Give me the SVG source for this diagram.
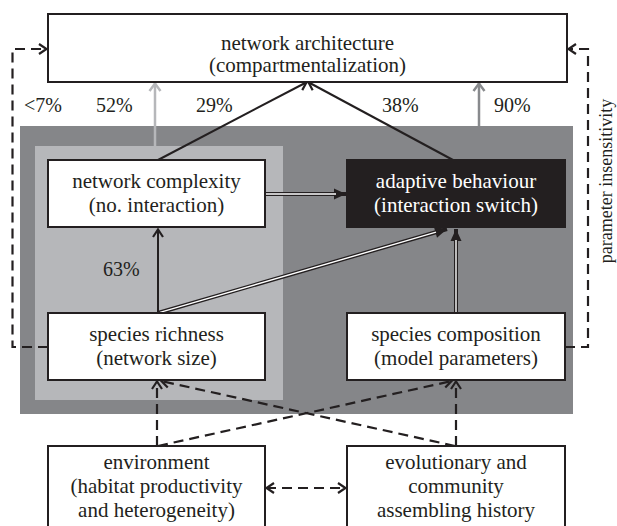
<svg xmlns="http://www.w3.org/2000/svg" width="617" height="526" viewBox="0 0 617 526">
<style>
  text { font-family: "Liberation Serif", "Times New Roman", serif; font-size: 21px; fill: #231f20; text-anchor: middle; }
  .pct { font-size: 20px; text-anchor: start; }
  .side { font-size: 18px; }
  .wt { fill: #ffffff; }
  .box { fill: #ffffff; stroke: #231f20; stroke-width: 2; }
  .dark { fill: #231f20; stroke: #231f20; stroke-width: 2; }
  .ln { fill: none; stroke: #231f20; stroke-width: 2; }
  .dash { fill: none; stroke: #231f20; stroke-width: 2.2; stroke-dasharray: 10 6; }
  .dbl { fill: none; stroke: #231f20; stroke-width: 4; }
  .dblw { fill: none; stroke: #ffffff; stroke-width: 1.4; }
  .g1 { fill: none; stroke: #b6b7ba; stroke-width: 2.5; }
  .g2 { fill: none; stroke: #888a8d; stroke-width: 2.5; }
</style>
<defs>
  <marker id="chev" markerUnits="userSpaceOnUse" viewBox="-12 -7 14 14" markerWidth="14" markerHeight="14" refX="0" refY="0" orient="auto-start-reverse" overflow="visible">
    <path d="M-8,-5 L-0.5,0 L-8,5" fill="none" stroke="#231f20" stroke-width="2.2"/>
  </marker>
  <marker id="chevG1" markerUnits="userSpaceOnUse" viewBox="-12 -7 14 14" markerWidth="14" markerHeight="14" refX="0" refY="0" orient="auto" overflow="visible">
    <path d="M-8,-5.5 L-0.5,0 L-8,5.5" fill="none" stroke="#b6b7ba" stroke-width="2.5"/>
  </marker>
  <marker id="chevG2" markerUnits="userSpaceOnUse" viewBox="-12 -7 14 14" markerWidth="14" markerHeight="14" refX="0" refY="0" orient="auto" overflow="visible">
    <path d="M-8,-5.5 L-0.5,0 L-8,5.5" fill="none" stroke="#888a8d" stroke-width="2.5"/>
  </marker>
  <marker id="tri" markerUnits="userSpaceOnUse" viewBox="-13 -7 14 14" markerWidth="14" markerHeight="14" refX="0" refY="0" orient="auto" overflow="visible">
    <path d="M-12,-5.5 L0,0 L-12,5.5 Z" fill="#231f20"/>
  </marker>
</defs>

<g id="regions">
  <rect x="20" y="126" width="553" height="288" fill="#858689"/>
  <rect x="35" y="146" width="248" height="254" fill="#b6b7ba"/>
</g>

<g id="connectors">
  <!-- grey arrows -->
  <line class="g1" x1="155" y1="146" x2="155" y2="83" marker-end="url(#chevG1)"/>
  <line class="g2" x1="479" y1="126" x2="479" y2="83" marker-end="url(#chevG2)"/>
  <!-- black arrows to architecture -->
  <line class="ln" x1="158" y1="160" x2="307" y2="82" marker-end="url(#chev)"/>
  <line class="ln" x1="453" y1="160" x2="308" y2="82" marker-end="url(#chev)"/>
  <!-- richness to complexity -->
  <line class="ln" x1="158" y1="313" x2="158" y2="229" marker-end="url(#chev)"/>
  <!-- double arrows -->
  <line class="dbl" x1="265" y1="194" x2="346" y2="194" marker-end="url(#tri)"/>
  <line class="dblw" x1="265" y1="194" x2="336" y2="194"/>
  <line class="dbl" x1="456" y1="313" x2="456" y2="229" marker-end="url(#tri)"/>
  <line class="dblw" x1="456" y1="312" x2="456" y2="240"/>
  <line class="dbl" x1="158" y1="313" x2="447" y2="229" marker-end="url(#tri)"/>
  <line class="dblw" x1="160" y1="312.4" x2="436" y2="232.2"/>
  <!-- feedback dashed -->
  <path class="dash" d="M48,347 H12.5 V49 H47" marker-end="url(#chev)"/>
  <path class="dash" d="M565,347 H588 V49 H568" marker-end="url(#chev)"/>
  <!-- bottom dashed -->
  <line class="dash" x1="157" y1="446" x2="157" y2="381" marker-end="url(#chev)"/>
  <line class="dash" x1="456" y1="446" x2="456" y2="381" marker-end="url(#chev)"/>
  <line class="dash" x1="158" y1="446" x2="452" y2="381" marker-end="url(#chev)"/>
  <line class="dash" x1="455" y1="446" x2="161" y2="381" marker-end="url(#chev)"/>
  <line class="dash" x1="266" y1="488" x2="346" y2="488" marker-start="url(#chev)" marker-end="url(#chev)"/>
</g>

<g id="labels">
  <text class="pct" x="24" y="112">&lt;7%</text>
  <text class="pct" x="96" y="112">52%</text>
  <text class="pct" x="196" y="112">29%</text>
  <text class="pct" x="382" y="112">38%</text>
  <text class="pct" x="494" y="112">90%</text>
  <text class="pct" x="103" y="276">63%</text>
  <text class="side" transform="translate(612,181) rotate(-90)">parameter insensitivity</text>
</g>

<g id="node-architecture">
  <rect class="box" x="48" y="14" width="519" height="68"/>
  <text x="307.5" y="50">network architecture</text>
  <text x="307.5" y="72">(compartmentalization)</text>
</g>
<g id="node-complexity">
  <rect class="box" x="48" y="160" width="217" height="67"/>
  <text x="156.5" y="188">network complexity</text>
  <text x="156.5" y="212">(no. interaction)</text>
</g>
<g id="node-adaptive">
  <rect class="dark" x="347" y="160" width="218" height="67"/>
  <text class="wt" x="456" y="188">adaptive behaviour</text>
  <text class="wt" x="456" y="212">(interaction switch)</text>
</g>
<g id="node-richness">
  <rect class="box" x="48" y="313" width="217" height="67"/>
  <text x="156.5" y="341">species richness</text>
  <text x="156.5" y="365">(network size)</text>
</g>
<g id="node-composition">
  <rect class="box" x="347" y="313" width="218" height="67"/>
  <text x="456" y="341">species composition</text>
  <text x="456" y="365">(model parameters)</text>
</g>
<g id="node-environment">
  <rect class="box" x="48" y="446" width="217" height="100"/>
  <text x="156.5" y="469">environment</text>
  <text x="156.5" y="493">(habitat productivity</text>
  <text x="156.5" y="517">and heterogeneity)</text>
</g>
<g id="node-history">
  <rect class="box" x="347" y="446" width="218" height="100"/>
  <text x="456" y="469">evolutionary and</text>
  <text x="456" y="493">community</text>
  <text x="456" y="517">assembling history</text>
</g>
</svg>
